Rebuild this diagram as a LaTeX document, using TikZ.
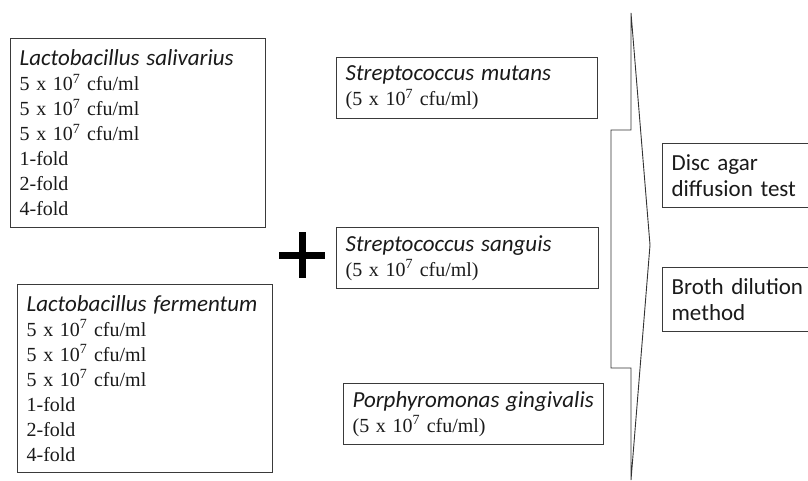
\documentclass[tikz,border=0pt]{standalone}
\usepackage{fontspec}
\setmainfont{Liberation Serif}
\newfontfamily\calfont{Carlito}
\definecolor{boxgray}{HTML}{3A3A3A}
\definecolor{txt}{HTML}{1A1A1A}
\newcommand{\serifsize}{\fontsize{20}{25}\selectfont}
\newcommand{\hd}[1]{{\calfont\itshape\fontsize{23}{25}\selectfont #1}}
\newcommand{\cfu}{5 x 10\textsuperscript{7} cfu/ml}
\begin{document}
\begin{tikzpicture}[x=1pt,y=-1pt]
\tikzset{
  box/.style={draw=boxgray, line width=1.2pt, anchor=north west, inner xsep=9pt,
    inner ysep=0pt, align=left, text=txt, font=\serifsize},
  chev/.style={draw=black!80, line width=0.9pt, line join=miter},
}
\clip (0,0) rectangle (808,481);
\fill[white] (0,0) rectangle (808,481);

% probiotic strains
\node[box, text width=237pt, minimum height=189pt] (ls) at (10,38)
  {\hd{Lactobacillus salivarius}\\\cfu\\\cfu\\\cfu\\1-fold\\2-fold\\4-fold};
\node[box, text width=237pt, minimum height=188pt] (lf) at (17,284)
  {\hd{Lactobacillus fermentum}\\\cfu\\\cfu\\\cfu\\1-fold\\2-fold\\4-fold};

% plus sign
\draw[line width=7pt, black] (279,255) -- (325,255);
\draw[line width=7pt, black] (302,232) -- (302,278);

% pathogens
\node[box, text width=243pt, minimum height=61pt] (sm) at (336,57)
  {\hd{Streptococcus mutans}\\(\cfu)};
\node[box, text width=244pt, minimum height=61pt] (ss) at (336,227)
  {\hd{Streptococcus sanguis}\\(\cfu)};
\node[box, text width=242pt, minimum height=61pt] (pg) at (343,383)
  {\hd{Porphyromonas gingivalis}\\(\cfu)};

% chevron arrow
\draw[chev] (631,13) -- (631,130) -- (611,130) -- (611,368) -- (631,368)
  -- (631,480) -- (650,245) -- cycle;

% test methods
\node[box, text width=160pt, minimum height=64pt,
  font=\calfont\fontsize{23}{26}\selectfont] (disc) at (662,143)
  {Disc agar\\diffusion test};
\node[box, text width=160pt, minimum height=64pt,
  font=\calfont\fontsize{23}{26}\selectfont] (broth) at (662,267)
  {Broth dilution\\method};
\end{tikzpicture}
\end{document}
